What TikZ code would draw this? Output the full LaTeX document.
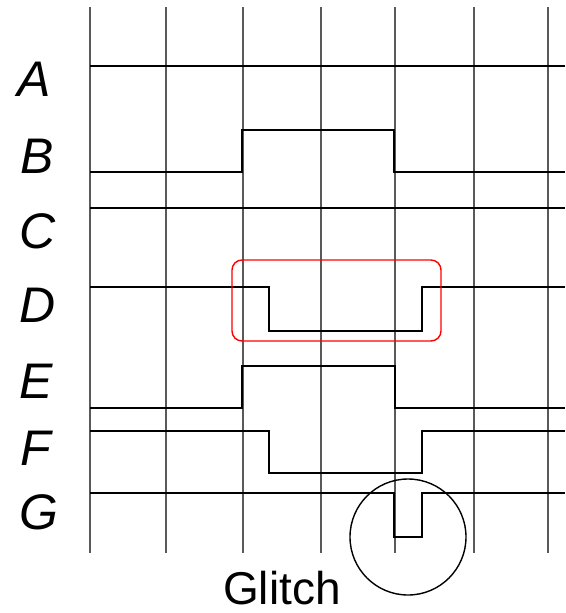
\documentclass[tikz,border=0pt]{standalone}
\usepackage{fontspec}
\setmainfont{Liberation Sans}
\begin{document}
\begin{tikzpicture}[x=1pt,y=-1pt,
  gridline/.style={draw=black!65, line width=1.1pt},
  sig/.style={draw=black, line width=2pt, line join=miter},
  lbl/.style={font=\fontsize{50}{50}\selectfont\itshape, inner sep=0pt, anchor=center},
  glitchlbl/.style={font=\fontsize{46}{46}\selectfont, inner sep=0pt, anchor=center},
  hilite/.style={draw=red, line width=1.4pt, rounded corners=10pt, inner sep=0pt},
  ring/.style={draw=black, circle, line width=1.4pt, inner sep=0pt}]
\useasboundingbox (0,0) rectangle (565,613);
% grid
\foreach \gx in {90,166,243,321,395,474,548}
  \draw[gridline] (\gx,7) -- (\gx,553);
% labels
\node[lbl] (la) at (34,79) {A};
\node[lbl] (lb) at (37,156) {B};
\node[lbl] (lc) at (38,231) {C};
\node[lbl] (ld) at (38,305) {D};
\node[lbl] (le) at (36,381) {E};
\node[lbl] (lf) at (36,448) {F};
\node[lbl] (lg) at (39,512) {G};
% signals
\draw[sig] (90,66) -- (565,66);
\draw[sig] (90,172) -- (242,172) -- (242,130) -- (394,130) -- (394,172) -- (565,172);
\draw[sig] (90,208) -- (565,208);
\draw[sig] (90,287) -- (269,287) -- (269,331) -- (422,331) -- (422,287) -- (565,287);
\draw[sig] (90,408) -- (242,408) -- (242,366) -- (395,366) -- (395,408) -- (565,408);
\draw[sig] (90,431) -- (269,431) -- (269,473) -- (422,473) -- (422,431) -- (565,431);
\draw[sig] (90,493) -- (394,493) -- (394,537) -- (422,537) -- (422,493) -- (565,493);
% highlight box and glitch ring
\node[hilite, minimum width=209pt, minimum height=81pt] (dbox) at (336.5,300.5) {};
\node[ring, minimum size=116pt] (glitchring) at (408,537) {};
\node[glitchlbl] (glitch) at (282,588) {Glitch};
\end{tikzpicture}
\end{document}
